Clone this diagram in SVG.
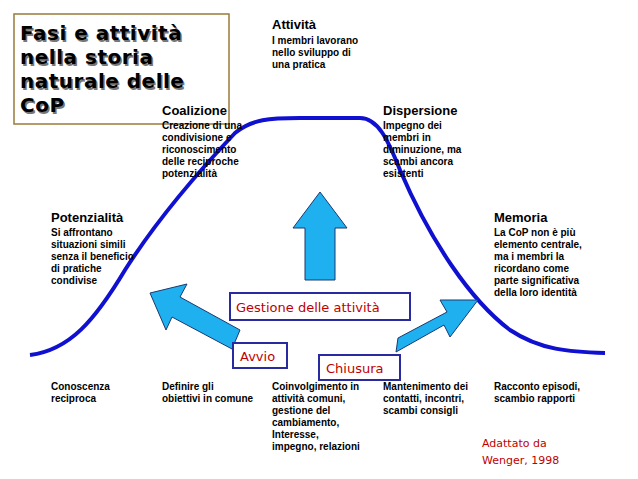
<svg xmlns="http://www.w3.org/2000/svg" width="638" height="479" viewBox="0 0 638 479">
<style>
.h{font-family:"Liberation Sans",Arial,sans-serif;font-size:13px;font-weight:bold;fill:#000}
.s{font-family:"Liberation Sans",Arial,sans-serif;font-size:10px;font-weight:bold;fill:#000}
.r{font-family:"DejaVu Sans",sans-serif;font-size:13px;fill:#c00000}
.bx{fill:#fff;stroke:#2a2aa0;stroke-width:2}
.ar{fill:#1fb0ef;stroke:#1a3a70;stroke-width:1}
.t{font-family:"DejaVu Sans",sans-serif;font-size:20px;font-weight:bold;letter-spacing:0.5px}
</style>
<rect width="638" height="479" fill="#fff"/>
<g id="title">
<rect x="14" y="14" width="215" height="110" fill="#fff" stroke="#9a7a3a" stroke-width="1.5"/>
<g class="t" fill="#777" transform="translate(1.5,1.5)"><text x="20" y="40">Fasi e attività</text><text x="20" y="64">nella storia</text><text x="20" y="88">naturale delle</text><text x="20" y="112">CoP</text></g>
<g class="t" fill="#000"><text x="20" y="40">Fasi e attività</text><text x="20" y="64">nella storia</text><text x="20" y="88">naturale delle</text><text x="20" y="112">CoP</text></g>
</g>
<g id="connectors">
<path d="M30 355 C70 350 95 320 125 270 C160 215 200 170 235 133 C252 119 270 118 300 118 L360 118 C378 118 388 140 400 170 C430 240 470 300 510 330 C540 350 570 352 605 353" fill="none" stroke="#1010d0" stroke-width="4"/>
<polygon class="ar" points="305,280 305,228 293,228 320,192 347,228 335,228 335,280"/>
<polygon class="ar" points="240,330 180,297 187,284 150,293 166,330 172,317 232,349"/>
<polygon class="ar" points="396,352 444,325 450,337 478,300 440,300 447,312 398,338"/>
</g>
<g id="gestione"><rect class="bx" x="230" y="293" width="180" height="27"/><text class="r" x="236" y="312">Gestione delle attività</text></g>
<g id="avvio"><rect class="bx" x="233" y="343" width="54" height="25"/><text class="r" x="240" y="361">Avvio</text></g>
<g id="chiusura"><rect class="bx" x="319" y="355" width="81" height="25"/><text class="r" x="326" y="373">Chiusura</text></g>
<g id="attivita"><text class="h" x="272" y="29">Attività</text><text class="s" x="272" y="44">I membri lavorano</text><text class="s" x="272" y="56">nello sviluppo di</text><text class="s" x="272" y="68">una pratica</text></g>
<g id="coalizione"><text class="h" x="162" y="115">Coalizione</text><text class="s" x="162" y="129">Creazione di una</text><text class="s" x="162" y="141">condivisione e</text><text class="s" x="162" y="153">riconoscimento</text><text class="s" x="162" y="165">delle reciproche</text><text class="s" x="162" y="177">potenzialità</text></g>
<g id="dispersione"><text class="h" x="383" y="115">Dispersione</text><text class="s" x="383" y="129">Impegno dei</text><text class="s" x="383" y="141">membri in</text><text class="s" x="383" y="153">diminuzione, ma</text><text class="s" x="383" y="165">scambi ancora</text><text class="s" x="383" y="177">esistenti</text></g>
<g id="potenzialita"><text class="h" x="51" y="222">Potenzialità</text><text class="s" x="51" y="236">Si affrontano</text><text class="s" x="51" y="248">situazioni simili</text><text class="s" x="51" y="260">senza il beneficio</text><text class="s" x="51" y="272">di pratiche</text><text class="s" x="51" y="284">condivise</text></g>
<g id="memoria"><text class="h" x="494" y="222">Memoria</text><text class="s" x="494" y="236">La CoP non è più</text><text class="s" x="494" y="248">elemento centrale,</text><text class="s" x="494" y="260">ma i membri la</text><text class="s" x="494" y="272">ricordano come</text><text class="s" x="494" y="284">parte significativa</text><text class="s" x="494" y="296">della loro identità</text></g>
<g id="bottom">
<text class="s" x="51" y="390">Conoscenza</text><text class="s" x="51" y="402">reciproca</text>
<text class="s" x="162" y="390">Definire gli</text><text class="s" x="162" y="402">obiettivi in comune</text>
<text class="s" x="272" y="390">Coinvolgimento in</text><text class="s" x="272" y="402">attività comuni,</text><text class="s" x="272" y="414">gestione del</text><text class="s" x="272" y="426">cambiamento,</text><text class="s" x="272" y="438">Interesse,</text><text class="s" x="272" y="450">impegno, relazioni</text>
<text class="s" x="383" y="390">Mantenimento dei</text><text class="s" x="383" y="402">contatti, incontri,</text><text class="s" x="383" y="414">scambi consigli</text>
<text class="s" x="494" y="390">Racconto episodi,</text><text class="s" x="494" y="402">scambio rapporti</text>
<text class="r" style="font-size:11px" x="482" y="447">Adattato da</text><text class="r" style="font-size:11px" x="482" y="464">Wenger, 1998</text>
</g>
</svg>
